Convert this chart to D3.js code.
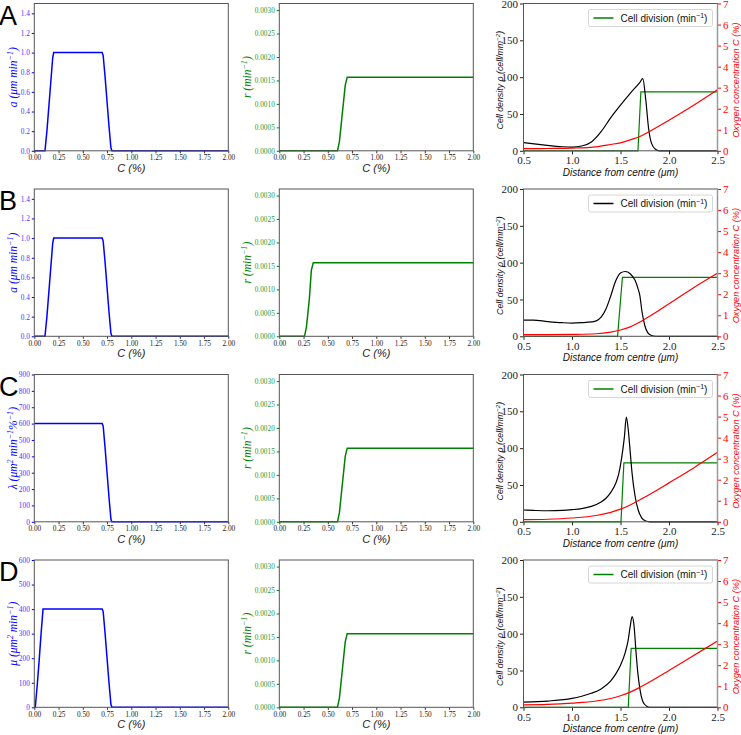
<!DOCTYPE html>
<html>
<head>
  <style>
    body{ margin:0; background:#fff; }
    svg{ display:block; }
    .tick-small text{ font-family:"Liberation Serif", serif; font-size:7.3px; }
    .tick-big text{ font-family:"Liberation Serif", serif; font-size:11px; }
    .lab{ font-family:"Liberation Sans", sans-serif; font-style:italic; }
    .mlab{ font-family:"Liberation Serif", serif; font-style:italic; }
    .panel-letter{ font-family:"Liberation Sans", sans-serif; font-size:27px; }
    .frame{ fill:none; stroke:#555; stroke-width:1; }
  </style>
  <script src="https://d3js.org/d3.v7.min.js"></script>
</head>
<body>
<div id="chart"></div>
<script>
// ---- data ----
const panelLetters = ['A','B','C','D'];

// left column: migration / chemotaxis parameters against C (%)
const leftX = [
  [0, 0.11, 0.13, 0.15, 0.17, 0.19, 0.2, 0.7, 0.71, 0.73, 0.75, 0.77, 0.79, 0.8, 2.0],
  [0, 0.11, 0.13, 0.15, 0.17, 0.19, 0.2, 0.7, 0.71, 0.73, 0.75, 0.77, 0.79, 0.8, 2.0],
  [0, 0.7, 0.71, 0.73, 0.75, 0.77, 0.79, 0.8, 2.0],
  [0, 0.01, 0.03, 0.05, 0.07, 0.09, 0.7, 0.71, 0.73, 0.75, 0.77, 0.79, 0.8, 2.0]
];
const leftY = [
  [0, 0, 0.2, 0.45, 0.7, 0.95, 1, 1, 0.97, 0.75, 0.5, 0.25, 0.03, 0, 0],
  [0, 0, 0.2, 0.45, 0.7, 0.95, 1, 1, 0.97, 0.75, 0.5, 0.25, 0.03, 0, 0],
  [600, 600, 585, 450, 300, 150, 15, 0, 0],
  [0, 0, 90, 190, 300, 400, 400, 390, 300, 200, 100, 12, 0, 0]
];
const leftMax = [1.5, 1.5, 900, 600];
const leftTicks = [
  [0, 0.2, 0.4, 0.6, 0.8, 1.0, 1.2, 1.4],
  [0, 0.2, 0.4, 0.6, 0.8, 1.0, 1.2, 1.4],
  [0, 100, 200, 300, 400, 500, 600, 700, 800, 900],
  [0, 100, 200, 300, 400, 500, 600]
];
const leftFormat = ['.1f', '.1f', 'd', 'd'];
const leftLabels = [
  [['a', 0], [' (μm min', 0], ['−1', 1], [')', 0]],
  [['a', 0], [' (μm min', 0], ['−1', 1], [')', 0]],
  [['λ', 0], [' (μm', 0], ['2', 1], [' min', 0], ['−1', 1], ['%', 0], ['−1', 1], [')', 0]],
  [['μ', 0], [' (μm', 0], ['2', 1], [' min', 0], ['−1', 1], [')', 0]]
];

// middle column: proliferation rate r against C (%)
const midX = [
  [0, 0.6, 0.62, 0.65, 0.68, 0.7, 2.0],
  [0, 0.26, 0.28, 0.31, 0.33, 0.35, 2.0],
  [0, 0.6, 0.62, 0.65, 0.68, 0.7, 2.0],
  [0, 0.6, 0.62, 0.65, 0.68, 0.7, 2.0]
];
const midY = [0, 0, 0.0002, 0.0008, 0.0014, 0.00157, 0.00157];
const midMax = 0.00314;
const midTicks = [0, 0.0005, 0.001, 0.0015, 0.002, 0.0025, 0.003];
const cTicks = [0, 0.25, 0.5, 0.75, 1.0, 1.25, 1.5, 1.75, 2.0];

// right column: profiles against distance from centre
const densX = [
  [0.5, 0.7, 0.9, 1.0, 1.1, 1.2, 1.3, 1.4, 1.5, 1.6, 1.7, 1.73, 1.76, 1.79, 1.82, 1.86, 1.9, 2.5],
  [0.5, 0.6, 0.75, 0.9, 1.0, 1.1, 1.2, 1.25, 1.3, 1.35, 1.4, 1.45, 1.5, 1.55, 1.6, 1.65, 1.68, 1.7, 1.72, 1.75, 1.78, 1.82, 1.86, 2.5],
  [0.5, 0.6, 0.75, 0.9, 1.0, 1.1, 1.2, 1.3, 1.35, 1.4, 1.45, 1.48, 1.51, 1.54, 1.56, 1.58, 1.6, 1.62, 1.65, 1.68, 1.72, 1.76, 1.8, 2.5],
  [0.5, 0.75, 1.0, 1.1, 1.2, 1.3, 1.4, 1.45, 1.5, 1.55, 1.58, 1.6, 1.62, 1.64, 1.66, 1.68, 1.7, 1.73, 1.77, 1.8, 2.5]
];
const densY = [
  [11, 8, 5.5, 5, 6.5, 12, 26, 45, 62, 78, 93, 98, 70, 30, 10, 2, 0, 0],
  [22, 22, 20, 18.5, 18, 18.5, 19.5, 21, 26, 37, 55, 75, 86, 88, 85, 76, 65, 55, 35, 15, 5, 1, 0, 0],
  [16, 15.5, 15, 15.5, 16.5, 18, 21, 27, 32, 40, 52, 64, 85, 115, 142, 125, 95, 65, 35, 17, 5, 1, 0, 0],
  [7, 8.5, 12, 15, 19, 25, 36, 45, 57, 75, 92, 110, 123, 110, 75, 45, 25, 8, 1.5, 0, 0]
];
const oxyX = [0.5, 0.75, 1.0, 1.25, 1.4, 1.5, 1.6, 1.7, 1.8, 2.0, 2.25, 2.5];
const oxyY = [
  [0.1, 0.11, 0.13, 0.19, 0.3, 0.38, 0.52, 0.68, 0.92, 1.45, 2.15, 2.9],
  [0.08, 0.08, 0.09, 0.12, 0.2, 0.3, 0.45, 0.68, 0.95, 1.55, 2.3, 3.0],
  [0.1, 0.12, 0.18, 0.3, 0.45, 0.6, 0.8, 1.05, 1.3, 1.85, 2.55, 3.3],
  [0.12, 0.14, 0.2, 0.3, 0.42, 0.55, 0.72, 0.95, 1.2, 1.75, 2.45, 3.15]
];
const divX = [
  [0.5, 1.68, 1.695, 1.71, 2.5],
  [0.5, 1.47, 1.495, 1.52, 2.5],
  [0.5, 1.505, 1.52, 1.535, 2.5],
  [0.5, 1.58, 1.595, 1.61, 2.5]
];
const divY = [0, 0, 0.0008, 0.00157, 0.00157];
const legendLineColor = ['green', 'black', 'green', 'green'];
const distTicks = [0.5, 1.0, 1.5, 2.0, 2.5];
const densTicks = [0, 50, 100, 150, 200];
const oxyTicks = [0, 1, 2, 3, 4, 5, 6, 7];

// ---- layout ----
const width = 741, height = 735;
const rowTop = [3.5, 189, 374.5, 560];
const plotH = 147.3;
const colX = [34.3, 279.3, 523.5];
const plotW = 194;

const svg = d3.select('#chart').append('svg')
  .attr('width', width).attr('height', height);

const zip = (xs, ys) => xs.map((x, i) => [x, ys[i]]);

// text with superscripts, parts = [[text, isSup], ...]
function richText(sel, parts, size){
  let up = false;
  parts.forEach(([t, sup]) => {
    const ts = sel.append('tspan').text(t);
    if(sup && !up){ ts.attr('dy', -size*0.38).attr('font-size', size*0.7); up = true; }
    else if(sup){ ts.attr('font-size', size*0.7); }
    else if(up){ ts.attr('dy', size*0.38); up = false; }
  });
}

function yLabel(x, yc, parts, size, color, cls){
  const t = svg.append('text')
    .attr('class', cls)
    .attr('transform', `translate(${x},${yc}) rotate(-90)`)
    .attr('text-anchor', 'middle')
    .attr('font-size', size)
    .attr('fill', color);
  richText(t, parts, size);
}

function styleAxis(g, color, labelColor){
  g.select('.domain').remove();
  g.selectAll('line').attr('stroke', color);
  g.selectAll('text').attr('fill', labelColor);
}

for(let r = 0; r < 4; r++){
  const top = rowTop[r], bottom = top + plotH;

  svg.append('text').attr('class', 'panel-letter')
    .attr('x', -1).attr('y', top + 21).text(panelLetters[r]);

  // ---------- left ----------
  {
    const x0 = colX[0];
    const x = d3.scaleLinear().domain([0, 2]).range([x0, x0 + plotW]);
    const y = d3.scaleLinear().domain([0, leftMax[r]]).range([bottom, top]);
    const gx = svg.append('g').attr('class', 'tick-small')
      .attr('transform', `translate(0,${bottom})`)
      .call(d3.axisBottom(x).tickValues(cTicks).tickFormat(d3.format('.2f')).tickSize(2.5).tickPadding(2));
    styleAxis(gx, '#333', '#222');
    const gy = svg.append('g').attr('class', 'tick-small')
      .attr('transform', `translate(${x0},0)`)
      .call(d3.axisLeft(y).tickValues(leftTicks[r]).tickFormat(d3.format(leftFormat[r])).tickSize(2.5).tickPadding(2));
    styleAxis(gy, 'blue', '#3b3bff');
    svg.append('path')
      .attr('d', d3.line().x(d => x(d[0])).y(d => y(d[1]))(zip(leftX[r], leftY[r])))
      .attr('fill', 'none').attr('stroke', 'blue').attr('stroke-width', 1.5);
    svg.append('rect').attr('class', 'frame')
      .attr('x', x0).attr('y', top).attr('width', plotW).attr('height', plotH);
    yLabel(17, top + plotH/2, leftLabels[r], 11.5, 'blue', 'mlab');
    svg.append('text').attr('class', 'lab')
      .attr('x', x0 + plotW/2).attr('y', bottom + 21)
      .attr('text-anchor', 'middle').attr('font-size', 11).attr('fill', '#222')
      .text('C (%)');
  }

  // ---------- middle ----------
  {
    const x0 = colX[1];
    const x = d3.scaleLinear().domain([0, 2]).range([x0, x0 + plotW]);
    const y = d3.scaleLinear().domain([0, midMax]).range([bottom, top]);
    const gx = svg.append('g').attr('class', 'tick-small')
      .attr('transform', `translate(0,${bottom})`)
      .call(d3.axisBottom(x).tickValues(cTicks).tickFormat(d3.format('.2f')).tickSize(2.5).tickPadding(2));
    styleAxis(gx, '#333', '#222');
    const gy = svg.append('g').attr('class', 'tick-small')
      .attr('transform', `translate(${x0},0)`)
      .call(d3.axisLeft(y).tickValues(midTicks).tickFormat(d3.format('.4f')).tickSize(2.5).tickPadding(2));
    styleAxis(gy, 'green', '#2e9a2e');
    svg.append('path')
      .attr('d', d3.line().x(d => x(d[0])).y(d => y(d[1]))(zip(midX[r], midY)))
      .attr('fill', 'none').attr('stroke', 'green').attr('stroke-width', 1.5);
    svg.append('rect').attr('class', 'frame')
      .attr('x', x0).attr('y', top).attr('width', plotW).attr('height', plotH);
    yLabel(251, top + plotH/2, [['r', 0], [' (min', 0], ['−1', 1], [')', 0]], 11.5, 'green', 'mlab');
    svg.append('text').attr('class', 'lab')
      .attr('x', x0 + plotW/2).attr('y', bottom + 21)
      .attr('text-anchor', 'middle').attr('font-size', 11).attr('fill', '#222')
      .text('C (%)');
  }

  // ---------- right ----------
  {
    const x0 = colX[2];
    const x = d3.scaleLinear().domain([0.5, 2.5]).range([x0, x0 + plotW]);
    const y = d3.scaleLinear().domain([0, 200]).range([bottom, top]);
    const yO = d3.scaleLinear().domain([0, 7]).range([bottom, top]);
    const yD = d3.scaleLinear().domain([0, 0.00157 * 200 / 80]).range([bottom, top]);

    const gx = svg.append('g').attr('class', 'tick-big')
      .attr('transform', `translate(0,${bottom})`)
      .call(d3.axisBottom(x).tickValues(distTicks).tickFormat(d3.format('.1f')).tickSize(3.5).tickPadding(2));
    styleAxis(gx, '#222', '#222');
    const gy = svg.append('g').attr('class', 'tick-big')
      .attr('transform', `translate(${x0},0)`)
      .call(d3.axisLeft(y).tickValues(densTicks).tickSize(3.5).tickPadding(2));
    styleAxis(gy, '#222', '#222');
    const gr = svg.append('g').attr('class', 'tick-big')
      .attr('transform', `translate(${x0 + plotW},0)`)
      .call(d3.axisRight(yO).tickValues(oxyTicks).tickFormat(d3.format('d')).tickSize(3.5).tickPadding(2));
    styleAxis(gr, 'red', 'red');

    svg.append('path')
      .attr('d', d3.line().x(d => x(d[0])).y(d => yD(d[1]))(zip(divX[r], divY)))
      .attr('fill', 'none').attr('stroke', 'green').attr('stroke-width', 1.2);
    svg.append('path')
      .attr('d', d3.line().curve(d3.curveMonotoneX).x(d => x(d[0])).y(d => y(d[1]))(zip(densX[r], densY[r])))
      .attr('fill', 'none').attr('stroke', 'black').attr('stroke-width', 1.2);
    svg.append('path')
      .attr('d', d3.line().curve(d3.curveMonotoneX).x(d => x(d[0])).y(d => yO(d[1]))(zip(oxyX, oxyY[r])))
      .attr('fill', 'none').attr('stroke', 'red').attr('stroke-width', 1.2);

    svg.append('rect').attr('class', 'frame')
      .attr('x', x0).attr('y', top).attr('width', plotW).attr('height', plotH);
    svg.append('line')
      .attr('x1', x0 + plotW).attr('x2', x0 + plotW).attr('y1', top).attr('y2', bottom)
      .attr('stroke', '#999').attr('stroke-width', 1.5);

    // legend
    const lg = svg.append('g').attr('transform', `translate(${x0 + 65},${top + 6})`);
    lg.append('rect').attr('width', 124).attr('height', 17).attr('rx', 2)
      .attr('fill', 'white').attr('stroke', '#ccc').attr('stroke-width', 0.8);
    lg.append('line').attr('x1', 5).attr('x2', 25).attr('y1', 8.5).attr('y2', 8.5)
      .attr('stroke', legendLineColor[r]).attr('stroke-width', 1.5);
    const lt = lg.append('text').attr('x', 32).attr('y', 12.3)
      .attr('font-family', '"Liberation Sans", sans-serif').attr('font-size', 10).attr('fill', '#111');
    richText(lt, [['Cell division (min', 0], ['−1', 1], [')', 0]], 10);

    yLabel(503, top + plotH/2 + 3, [['Cell density ρ (cell/mm', 0], ['−2', 1], [')', 0]], 8.8, '#111', 'lab');
    yLabel(739, top + plotH/2 + 3, [['Oxygen concentration C (%)', 0]], 9.2, 'red', 'lab');
    svg.append('text').attr('class', 'lab')
      .attr('x', x0 + plotW/2).attr('y', bottom + 25)
      .attr('text-anchor', 'middle').attr('font-size', 10).attr('fill', '#111')
      .text('Distance from centre (μm)');
  }
}
</script>
</body>
</html>
